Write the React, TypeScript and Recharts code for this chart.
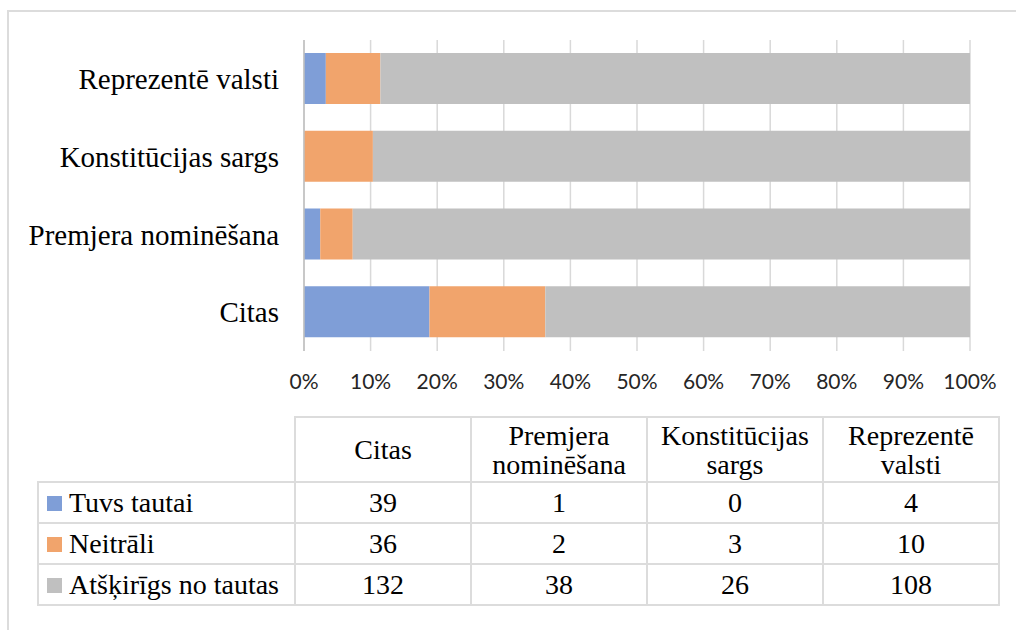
import { BarChart, Bar, XAxis, YAxis, CartesianGrid } from 'recharts';

// table order (bottom to top in the chart)
const categories = ['Citas', 'Premjera nominēšana', 'Konstitūcijas sargs', 'Reprezentē valsti'];
const headerLines = [['Citas'], ['Premjera', 'nominēšana'], ['Konstitūcijas', 'sargs'], ['Reprezentē', 'valsti']];

const seriesNames = ['Tuvs tautai', 'Neitrāli', 'Atšķirīgs no tautas'];
const tuvsTautai = [39, 1, 0, 4];
const neitrali = [36, 2, 3, 10];
const atskirigs = [132, 38, 26, 108];

const xTickLabels = [0, 10, 20, 30, 40, 50, 60, 70, 80, 90, 100];

const COLORS = ['#7F9ED7', '#F1A46C', '#C0C0C0'];
const SERIES_KEYS = ['tuvs', 'neitrali', 'atskirigs'];
const seriesValues = [tuvsTautai, neitrali, atskirigs];

const data = categories.map((name, i) => ({
  name,
  tuvs: tuvsTautai[i],
  neitrali: neitrali[i],
  atskirigs: atskirigs[i],
}));

const SERIF = 'Liberation Serif';
const BORDER = '2px solid #dcdcdc';

export default function App() {
  return (
    <div style={{ position: 'absolute', left: 0, top: 0, width: 1016, height: 630, background: '#fff', overflow: 'hidden' }}>
      {/* outer frame */}
      <div
        style={{
          position: 'absolute',
          left: 7,
          top: 10,
          width: 1100,
          height: 700,
          borderTop: BORDER,
          borderLeft: BORDER,
        }}
      />

      <div style={{ position: 'absolute', left: 0, top: 0 }}>
        <BarChart
          width={1016}
          height={400}
          data={data}
          layout="vertical"
          stackOffset="expand"
          barSize={51}
          margin={{ top: 40, right: 46, bottom: 0, left: 0 }}
        >
          <CartesianGrid horizontal={false} stroke="#d9d9d9" strokeWidth={1.5} />
          <XAxis
            type="number"
            domain={[0, 1]}
            ticks={xTickLabels.map((t) => t / 100)}
            tickFormatter={(v: number) => `${Math.round(v * 100)}%`}
            axisLine={false}
            tickLine={false}
            height={49}
            tickMargin={17}
            tick={{ fill: '#262626', fontSize: 21, fontFamily: 'Lato' }}
            interval={0}
          />
          <YAxis
            type="category"
            dataKey="name"
            reversed
            width={304}
            tickLine={false}
            axisLine={{ stroke: '#bfbfbf', strokeWidth: 1.5 }}
            tickMargin={19}
            tick={{ fill: '#000', fontSize: 29, fontFamily: SERIF }}
            interval={0}
          />
          {SERIES_KEYS.map((k, i) => (
            <Bar key={k} dataKey={k} stackId="a" fill={COLORS[i]} name={seriesNames[i]} isAnimationActive={false} />
          ))}
        </BarChart>
      </div>

      {/* data table */}
      <table
        style={{
          position: 'absolute',
          left: 37,
          top: 416,
          borderCollapse: 'collapse',
          tableLayout: 'fixed',
          fontFamily: SERIF,
          fontSize: 28,
          color: '#000',
        }}
      >
        <colgroup>
          <col style={{ width: 257 }} />
          {categories.map((c) => (
            <col key={c} style={{ width: 176 }} />
          ))}
        </colgroup>
        <tbody>
          <tr style={{ height: 65 }}>
            <td style={{ border: 'none', padding: 0 }} />
            {headerLines.map((lines, i) => (
              <td
                key={i}
                style={{ border: BORDER, padding: 0, textAlign: 'center', lineHeight: '29px', fontFamily: SERIF, fontSize: 28 }}
              >
                {lines.map((l, j) => (
                  <div key={j}>{l}</div>
                ))}
              </td>
            ))}
          </tr>
          {seriesNames.map((s, si) => (
            <tr key={s} style={{ height: 41 }}>
              <td
                style={{
                  border: BORDER,
                  padding: '0 0 0 8px',
                  whiteSpace: 'nowrap',
                  lineHeight: '30px',
                  fontFamily: SERIF,
                  fontSize: 28,
                }}
              >
                <span
                  style={{
                    display: 'inline-block',
                    width: 15,
                    height: 15,
                    background: COLORS[si],
                    marginRight: 7,
                    verticalAlign: 'middle',
                    position: 'relative',
                    top: -2,
                  }}
                />
                {s}
              </td>
              {seriesValues[si].map((v, ci) => (
                <td
                  key={ci}
                  style={{ border: BORDER, padding: 0, textAlign: 'center', lineHeight: '30px', fontFamily: SERIF, fontSize: 28 }}
                >
                  {v}
                </td>
              ))}
            </tr>
          ))}
        </tbody>
      </table>
    </div>
  );
}
